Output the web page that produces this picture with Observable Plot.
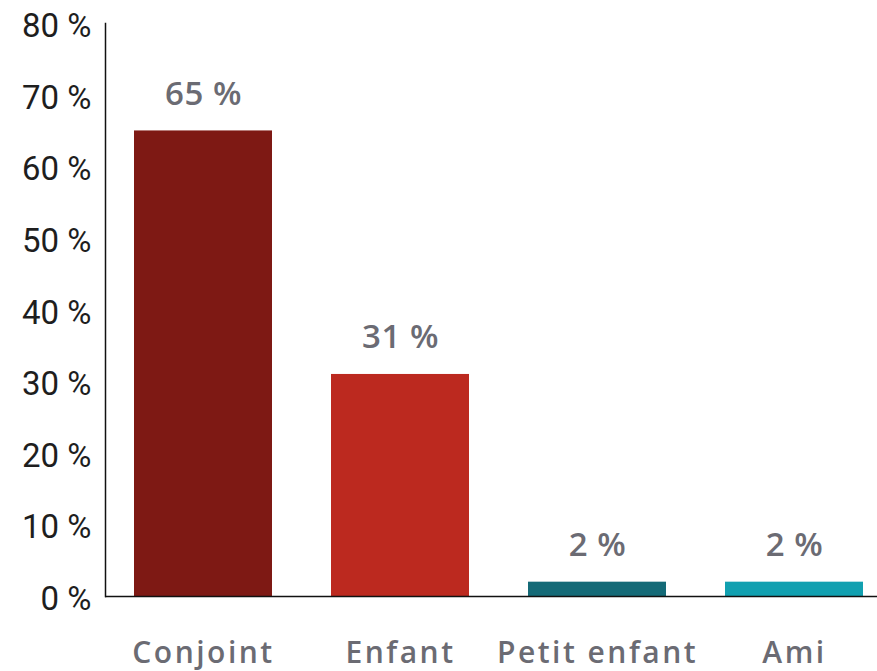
<!DOCTYPE html>
<html>
<head>
<meta charset="utf-8">
<script src="https://cdn.jsdelivr.net/npm/d3@7"></script>
<script src="https://cdn.jsdelivr.net/npm/@observablehq/plot@0.6"></script>
<style>
  html, body { margin: 0; padding: 0; background: #fff; }
  #chart svg { display: block; }
  #chart g[aria-label="x-axis tick label"] text { letter-spacing: 2.5px; }
  #chart g[aria-label="text"] text { letter-spacing: 0.5px; }
</style>
</head>
<body>
<div id="chart"></div>
<script>
const categories = ["Conjoint", "Enfant", "Petit enfant", "Ami"];
const values = [65, 31, 2, 2];
const colors = ["#7e1914", "#bc291f", "#146a77", "#11a0b0"];
const yTicks = [0, 10, 20, 30, 40, 50, 60, 70, 80];

const data = categories.map((c, i) => ({category: c, value: values[i], color: colors[i]}));

const chart = Plot.plot({
  width: 877,
  height: 671,
  marginLeft: 105,
  marginRight: 0,
  marginTop: 23,
  marginBottom: 75,
  style: {background: "#fff"},
  x: {domain: categories, range: [133, 864], paddingInner: 0.297, paddingOuter: 0, label: null},
  y: {domain: [0, 80], label: null},
  marks: [
    Plot.barY(data, {x: "category", y: "value", fill: "color"}),
    Plot.ruleY([0], {stroke: "#111", strokeWidth: 1.5}),
    Plot.frame({anchor: "left", stroke: "#111", strokeWidth: 1.5}),
    Plot.axisY({
      ticks: yTicks, tickSize: 0, tickPadding: 14,
      tickFormat: d => d + " %",
      fontSize: 33, fontFamily: "Roboto", fontWeight: 400, fill: "#1e1e1e", dy: 3, label: null
    }),
    Plot.axisX({
      tickSize: 0, tickPadding: 45, fontSize: 30, fontFamily: "Open Sans", fontWeight: 600,
      fill: "#6b6b73", label: null
    }),
    Plot.text(data, {
      x: "category", y: "value", text: d => d.value + " %",
      dy: -37, fontSize: 33, fontFamily: "Open Sans", fontWeight: 600, fill: "#6b6b73"
    })
  ]
});
document.getElementById("chart").append(chart);
</script>
</body>
</html>
